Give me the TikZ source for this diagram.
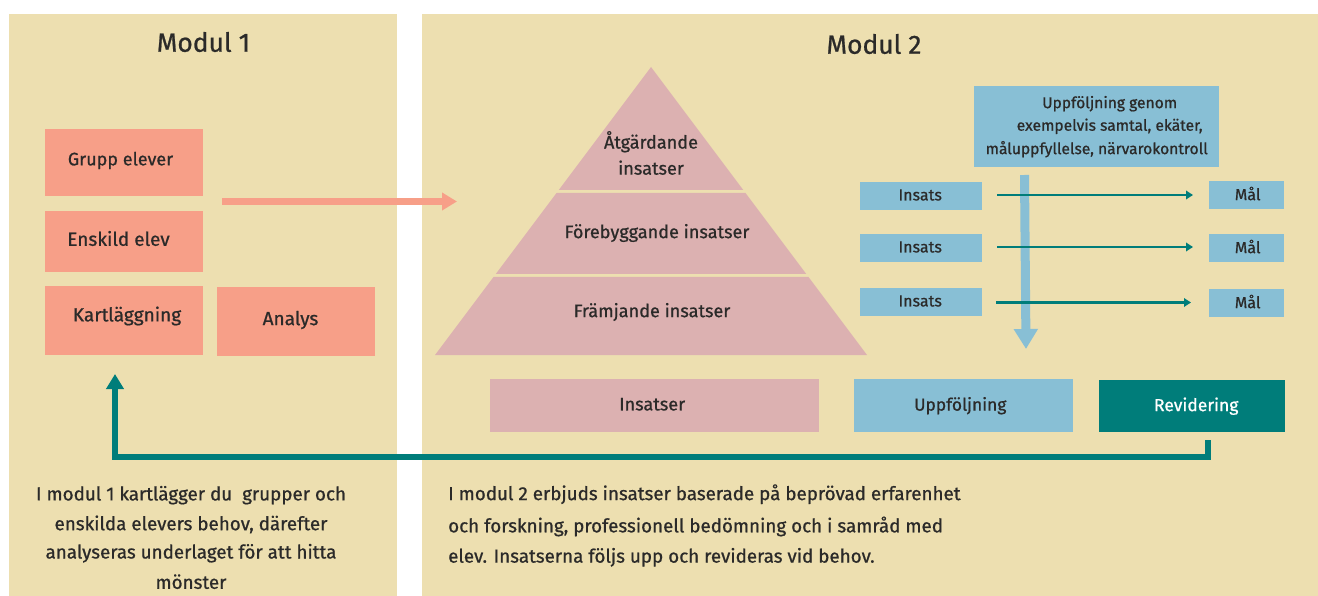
\documentclass[tikz,border=0pt]{standalone}
\usepackage{fontspec}
\setmainfont{Fira Sans}[FakeBold=0.8]
\definecolor{txt}{HTML}{2B2A29}
\definecolor{beige}{HTML}{EDDFB0}
\definecolor{salmon}{HTML}{F79F88}
\definecolor{pinkb}{HTML}{DCB1B1}
\definecolor{blueb}{HTML}{88BFD5}
\definecolor{tealb}{HTML}{007D7A}
\newcommand{\fs}[1]{\fontsize{#1}{#1}\selectfont}
\usetikzlibrary{arrows.meta}
\tikzset{
 every node/.style={text=txt,font=\fs{16.5}},
 panel/.style={fill=beige,draw=none,inner sep=0pt,anchor=north west},
 bx/.style={draw=none,inner sep=0pt,anchor=north west},
 salbox/.style={bx,fill=salmon},
 bluebox/.style={bx,fill=blueb,font=\fs{15.6}},
 smallblue/.style={bx,fill=blueb,font=\fs{16}},
 title/.style={font=\fs{26.4}},
 pyrtext/.style={font=\fs{18.1}},
 para/.style={font=\fs{18.8},inner sep=0pt},
 sallabel/.style={font=\fs{19}},
 thinarrow/.style={draw=tealb,line width=2.3pt,-{Triangle[length=7pt,width=8.5pt]}},
 flowline/.style={draw=tealb,line width=5.2pt,-{Triangle[length=15pt,width=17pt]}},
}
\begin{document}
\begin{tikzpicture}[x=1pt,y=-1pt]
\useasboundingbox (0,0) rectangle (1318,596);
\fill[white] (0,0) rectangle (1318,596);
% panels
\node[panel,minimum width=388pt,minimum height=582pt] (p1) at (9,14) {};
\node[panel,minimum width=896pt,minimum height=582pt] (p2) at (422,14) {};
\node[title] (t1) at (203.5,42) {Modul 1};
\node[title] (t2) at (874,44) {Modul 2};
% modul 1 boxes
\node[salbox,minimum width=158pt,minimum height=67pt] (grupp) at (45,129) {};
\node[salbox,minimum width=158pt,minimum height=61pt] (enskild) at (45,211) {};
\node[salbox,minimum width=158pt,minimum height=69pt] (kart) at (45,286) {};
\node[salbox,minimum width=158pt,minimum height=69pt] (analys) at (217,287) {};
\node[font=\fs{18}] (lg) at (120.5,160.5) {Grupp elever};
\node[sallabel] (le) at (118.5,238.5) {Enskild elev};
\node[sallabel] (lk) at (127,316) {Kartläggning};
\node[sallabel] (la) at (290.5,320) {Analys};
% pink arrow
\coordinate (pa) at (222,201.5);
\coordinate (pb) at (457,201.5);
\draw[salmon,line width=7pt,-{Triangle[length=15pt,width=17pt]}] (pa) -- (pb);
% pyramid
\fill[pinkb] (651,67) -- (743.25,190) -- (558.75,190) -- cycle;
\fill[pinkb] (556.5,193) -- (745.5,193) -- (806.25,274) -- (495.75,274) -- cycle;
\fill[pinkb] (493.5,277) -- (808.5,277) -- (867,355) -- (435,355) -- cycle;
\node[pyrtext,align=center] (p3) at (651,153) {Åtgärdande\\[8pt]insatser};
\node[pyrtext] (p4) at (657,233) {Förebyggande insatser};
\node[pyrtext] (p5) at (652,312) {Främjande insatser};
% bottom boxes
\node[bx,fill=pinkb,font=\fs{18.1},minimum width=329pt,minimum height=53pt] (ins) at (490,379) {\hspace*{-5pt}\raisebox{3pt}{Insatser}};
\node[bx,fill=blueb,font=\fs{17.4},minimum width=219pt,minimum height=53pt] (upp) at (854,379) {\hspace*{-7pt}Uppföljning};
\node[bx,fill=tealb,text=white,font=\fs{17.5},minimum width=186pt,minimum height=52pt] (rev) at (1099,380) {\hspace*{8pt}Revidering};
% follow-up box
\node[bluebox,minimum width=245pt,minimum height=81pt,align=center] (uf) at (974,86) {\hspace*{26pt}Uppföljning genom\\[7pt]\hspace*{26pt}exempelvis samtal, ekäter,\\[6pt]måluppfyllelse, närvarokontroll};
% down arrow
\coordinate (da) at (1024.5,175);
\coordinate (db) at (1026,349);
\draw[blueb,line width=9pt,-{Triangle[length=20pt,width=23pt]}] (da) -- (db);
% rows
\foreach \i/\yi/\ym/\sx/\ex/\ya in {1/182/181/997/1193/195,2/234/234/997/1193/247,3/288/289/996/1191/302.5}{
 \node[smallblue,minimum width=122pt,minimum height=28pt] (ins\i) at (860,\yi) {\raisebox{2.5pt}{\hspace*{-2pt}Insats}};
 \node[smallblue,minimum width=75pt,minimum height=28pt] (mal\i) at (1209,\ym) {\hspace*{2pt}\raisebox{3.5pt}{Mål}};
 \coordinate (s\i) at (\sx,\ya);
 \coordinate (e\i) at (\ex,\ya);
 \draw[thinarrow] (s\i) -- (e\i);
}
% feedback
\coordinate (fa) at (1208,440);
\coordinate (fb) at (1208,457);
\coordinate (fc) at (115,457);
\coordinate (fd) at (115,374);
\draw[flowline] (fa) -- (fb) -- (fc) -- (fd);
% paragraphs
\node[para,align=center] (b1) at (191,537.5) {I modul 1 kartlägger du\ \ grupper och\\[11pt]enskilda elevers behov, därefter\\[9.5pt]analyseras underlaget för att hitta\\[11.5pt]mönster};
\node[para,align=left,anchor=west] (b2) at (448,525.5) {I modul 2 erbjuds insatser baserade på beprövad erfarenhet\\[11.5pt]och forskning, professionell bedömning och i samråd med\\[11.5pt]elev. Insatserna följs upp och revideras vid behov.};
\end{tikzpicture}
\end{document}
